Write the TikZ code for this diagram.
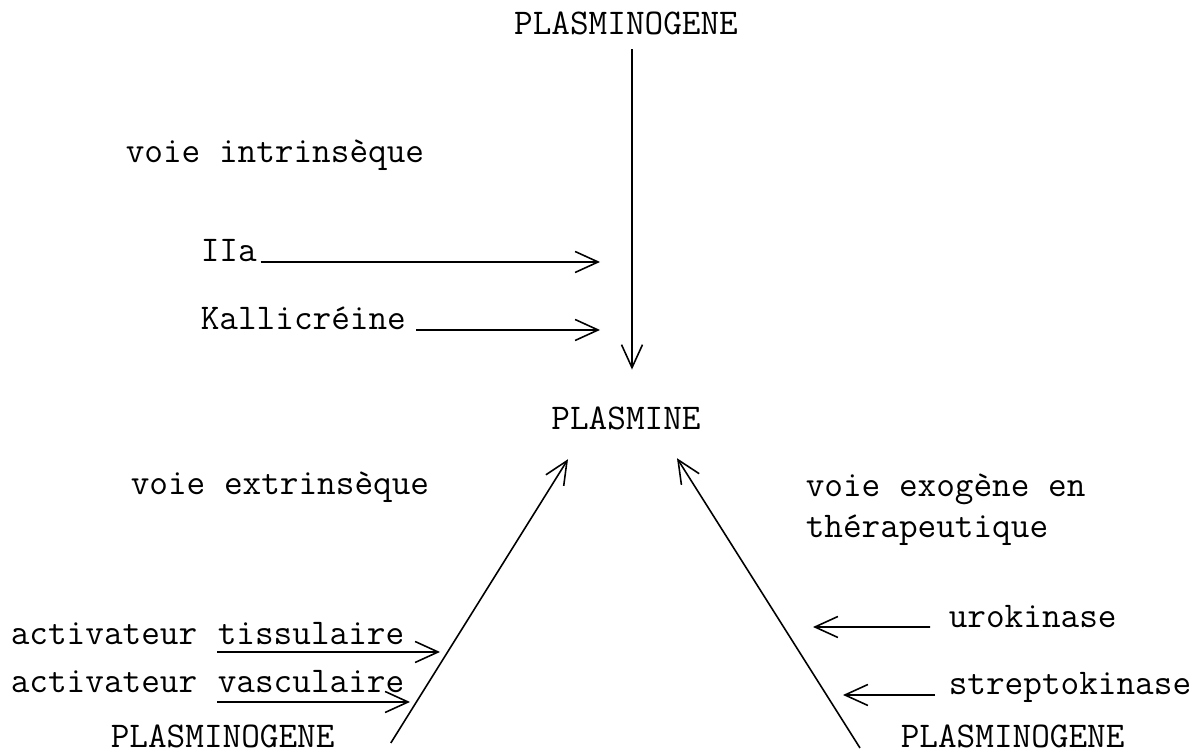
\documentclass[tikz,border=0pt]{standalone}
\usepackage{fontspec}
\usepackage{tikz}
\usetikzlibrary{arrows.meta, positioning}

\begin{document}
\begin{tikzpicture}[
            every node/.style={inner sep=0pt, font=\ttfamily\fontsize{20.6}{24}\selectfont},
            lbl/.style={anchor=base west},
            arr/.style={-{Straight Barb[length=4.6mm, width=4.2mm]}},
            line width=0.9pt,
        ]
        \useasboundingbox (0,0) rectangle (23.92,15.08);
        % centre
        \node (plgT) at (12.52,14.38) [anchor=base] {PLASMINOGENE};
        \node (plasmine) at (12.52,6.48) [anchor=base] {PLASMINE};
        \node (plgL) at (2.20,0.12) [lbl] {PLASMINOGENE};
        \node (plgR) at (18.00,0.12) [lbl] {PLASMINOGENE};
        % voie intrinseque
        \node (vint) at (2.50,11.82) [lbl] {voie intrinsèque};
        \node (iia) at (4.00,9.84) [lbl] {IIa};
        \node (kal) at (4.00,8.48) [lbl] {Kallicréine};
        % voie extrinseque
        \node (vext) at (2.60,5.18) [lbl] {voie extrinsèque};
        \node (act1) at (0.20,2.18) [lbl] {activateur};
        \node (tis) [base right=0.38cm of act1] {tissulaire};
        \node (act2) at (0.20,1.22) [lbl] {activateur};
        \node (vas) [base right=0.38cm of act2] {vasculaire};
        % voie exogene
        \node (vexo) at (16.10,5.14) [lbl] {voie exogène en};
        \node (thera) at (16.10,4.32) [lbl] {thérapeutique};
        \node (uro) at (18.96,2.52) [lbl] {urokinase};
        \node (strep) at (18.96,1.18) [lbl] {streptokinase};
        \coordinate (tIIa) at (12.00,9.84);
        \coordinate (tKal) at (12.00,8.48);
        \coordinate (tTis) at (8.80,2.04);
        \coordinate (tVas) at (8.20,1.04);
        \coordinate (tUro) at (16.26,2.54);
        \coordinate (tStr) at (16.86,1.18);
        \draw[arr] ([xshift=0.12cm, yshift=-0.26cm]plgT.south) -- ([xshift=0.12cm, yshift=0.74cm]plasmine.north);
        \draw[arr] ([xshift=0.06cm]iia.base east) -- (tIIa);
        \draw[arr] ([xshift=0.19cm]kal.base east) -- (tKal);
        \draw[arr] ([xshift=1.11cm, yshift=0.10cm]plgL.base east) -- ([xshift=-1.16cm, yshift=-0.56cm]plasmine.south);
        \draw[arr] ([xshift=-0.80cm]plgR.base west) -- ([xshift=1.02cm, yshift=-0.54cm]plasmine.south);
        \draw[arr] ([yshift=-0.14cm]tis.base west) -- (tTis);
        \draw[arr] ([yshift=-0.18cm]vas.base west) -- (tVas);
        \draw[arr] ([xshift=-0.36cm, yshift=0.02cm]uro.base west) -- (tUro);
        \draw[arr] ([xshift=-0.26cm]strep.base west) -- (tStr);
\end{tikzpicture}
\end{document}
